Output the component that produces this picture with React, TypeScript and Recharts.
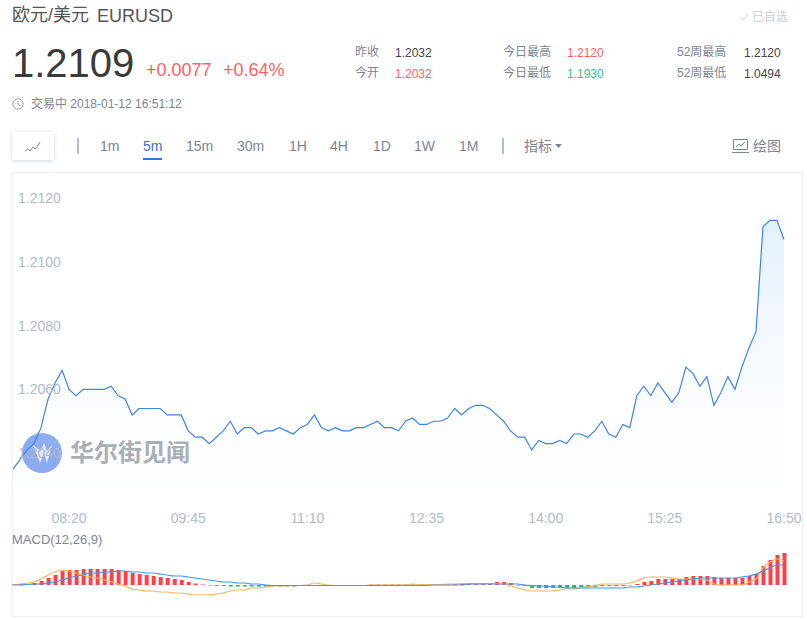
import React from 'react'
import { AreaChart, Area, ComposedChart, Bar, Line, Cell, XAxis, YAxis } from 'recharts'

const FONT = '"Liberation Sans", "Noto Sans CJK SC", sans-serif'

const TIMES = [
  '07:40','07:45','07:50','07:55','08:00','08:05','08:10','08:15','08:20','08:25','08:30','08:35',
  '08:40','08:45','08:50','08:55','09:00','09:05','09:10','09:15','09:20','09:25','09:30','09:35',
  '09:40','09:45','09:50','09:55','10:00','10:05','10:10','10:15','10:20','10:25','10:30','10:35',
  '10:40','10:45','10:50','10:55','11:00','11:05','11:10','11:15','11:20','11:25','11:30','11:35',
  '11:40','11:45','11:50','11:55','12:00','12:05','12:10','12:15','12:20','12:25','12:30','12:35',
  '12:40','12:45','12:50','12:55','13:00','13:05','13:10','13:15','13:20','13:25','13:30','13:35',
  '13:40','13:45','13:50','13:55','14:00','14:05','14:10','14:15','14:20','14:25','14:30','14:35',
  '14:40','14:45','14:50','14:55','15:00','15:05','15:10','15:15','15:20','15:25','15:30','15:35',
  '15:40','15:45','15:50','15:55','16:00','16:05','16:10','16:15','16:20','16:25','16:30','16:35',
  '16:40','16:45','16:50',
]
const TIME_TICKS = ['08:20', '09:45', '11:10', '12:35', '14:00', '15:25', '16:50']
const PRICE_TICKS = [1.204, 1.206, 1.208, 1.21, 1.212]

const PRICE = [
  1.2035,1.2038,1.2041,1.2043,1.2048,1.2057,1.2062,1.2066,1.2060,1.2058,1.2060,1.2060,
  1.2060,1.2060,1.2061,1.2058,1.2057,1.2052,1.2054,1.2054,1.2054,1.2054,1.2052,1.2052,
  1.2052,1.2047,1.2045,1.2045,1.2043,1.2045,1.2047,1.2050,1.2046,1.2048,1.2048,1.2046,
  1.2047,1.2047,1.2048,1.2047,1.2046,1.2048,1.2049,1.2052,1.2048,1.2047,1.2048,1.2047,
  1.2047,1.2048,1.2048,1.2049,1.2050,1.2048,1.2048,1.2047,1.2050,1.2051,1.2049,1.2049,
  1.2050,1.2050,1.2051,1.2054,1.2052,1.2054,1.2055,1.2055,1.2054,1.2052,1.2050,1.2047,
  1.2045,1.2045,1.2041,1.2044,1.2043,1.2043,1.2044,1.2043,1.2046,1.2046,1.2045,1.2047,
  1.2050,1.2046,1.2045,1.2049,1.2048,1.2058,1.2061,1.2058,1.2062,1.2059,1.2056,1.2059,
  1.2067,1.2065,1.2061,1.2064,1.2055,1.2059,1.2064,1.2060,1.2067,1.2073,1.2078,1.2111,
  1.2113,1.2113,1.2107,
]

// MACD values, scaled up so the panel reads in small whole numbers
const HIST = [
  0.5,1,1,2,4,7,10,14,15,15,16,16,
  16,16,16,15,14,12,11,10,9,8,7,6,
  5,3,1.5,0.5,-0.5,-1,-1,-1.5,-1.5,-1.5,-1.5,-1.5,
  -1.5,-1.5,-1.5,-1.5,-1.5,-1,-1,-1,-1,-0.5,-0.5,-0.5,
  -0.5,-0.5,-0.5,0.5,0.5,0.5,0.5,0.5,0.5,0.5,0.5,0.5,
  0.5,0.5,0.5,1,1,1.5,1.5,2,2,3,3,2,
  -0.5,-1,-3,-3,-3,-3,-3,-3,-3,-2,-2,-2,
  -1,-1,-1,-1,-0.5,1,3,4,6,6,6,6,
  8,9,9,9,8,7,7,7,7,9,11,19,
  25,30,32,
]
const DIF = [
  0,1,2,3,6,10,13,15,14,12,10,8,
  7,5,3,1,-1,-4,-5,-6,-6,-7,-7,-8,
  -8,-9,-10,-10,-10,-9,-8,-6,-5,-5,-3,-3,
  -2,-1,-1,-1,-0.5,-0.5,0,2,1,0,-0.5,-0.5,
  -0.5,-0.5,-0.5,0,0,0,0,0,0,1,0.5,0.5,
  0.5,0.5,1,1,1.5,1.5,1.5,1.5,1.5,1.5,1,-1,
  -3,-5,-6,-6,-6,-6,-5,-4,-4,-3,-2,-1,
  1,1,1,1,2,4,7,8,8,8,7,6,
  6,6,6,5,1,0,0,0,0,3,6,17,
  23,26,24,
]
const DEA = [
  0,0,0.5,1,1,2,3,5,7,9,10,12,
  12,13,13,14,14,13,13,12,12,11,10,9,
  9,8,7,6,5,4,3,3,2,2,1,1,
  0,-0.5,-0.5,-0.5,-0.5,-0.5,-0.5,-0.5,-0.5,-0.5,-0.5,-0.5,
  -0.5,-0.5,-0.5,-0.5,-0.5,-0.5,-0.5,-0.5,-0.5,-0.5,-0.5,-0.5,
  0,0,0,0,0,1,1,1,1,1,1,1,
  1,0,-0.5,-1,-1,-2,-2,-3,-3,-3,-3,-3,
  -3,-3,-3,-3,-2,-2,-1,0,1,2,3,4,
  5,6,7,7,7,7,7,7,8,9,11,14,
  17,20,20,
]

const priceData = TIMES.map((time, i) => ({ time, price: PRICE[i] }))
const macdData = TIMES.map((time, i) => ({ time, hist: HIST[i], dif: DIF[i], dea: DEA[i] }))

const TABS = [
  ['1m', 100], ['5m', 143], ['15m', 186], ['30m', 237], ['1H', 289], ['4H', 330],
  ['1D', 373], ['1W', 414], ['1M', 459],
] as const

const STATS = [
  ['昨收', 355, 52, '#7c8494'], ['1.2032', 395, 53, '#444'],
  ['今开', 355, 73, '#7c8494'], ['1.2032', 395, 74, '#ff5f5f'],
  ['今日最高', 503, 52, '#7c8494'], ['1.2120', 567, 53, '#ff5f5f'],
  ['今日最低', 503, 73, '#7c8494'], ['1.1930', 567, 74, '#2fbf8f'],
  ['52周最高', 677, 52, '#7c8494'], ['1.2120', 744, 53, '#444'],
  ['52周最低', 677, 73, '#7c8494'], ['1.0494', 744, 74, '#444'],
] as const

function Txt({ x, y, size, color, children, weight }: any) {
  return (
    <div style={{
      position: 'absolute', left: x, top: y, transform: 'translateY(-50%)', fontSize: size, color,
      fontFamily: FONT, whiteSpace: 'pre', lineHeight: 1, fontWeight: weight,
    }}>{children}</div>
  )
}

export default function App() {
  return (
    <div style={{ position: 'absolute', left: 0, top: 0, width: 807, height: 619, background: '#fff', overflow: 'hidden' }}>
      <Txt x={12} y={15} size={18} color="#555">欧元/美元</Txt>
      <Txt x={97} y={16} size={18} color="#555">EURUSD</Txt>
      <Txt x={12} y={63} size={40} color="#3a3a3a">1.2109</Txt>
      <Txt x={146} y={70} size={18} color="#ff5f5f">+0.0077</Txt>
      <Txt x={223} y={70} size={18} color="#ff5f5f">+0.64%</Txt>

      <svg style={{ position: 'absolute', left: 12, top: 98 }} width={12} height={12}>
        <circle cx={6} cy={6} r={5.2} fill="none" stroke="#9aa1ae" />
        <path d="M6 3v3.4l2.2 1.2" fill="none" stroke="#9aa1ae" />
      </svg>
      <Txt x={31} y={104} size={12} color="#7c8494">交易中 2018-01-12 16:51:12</Txt>

      {STATS.map(([label, x, y, color], i) => (
        <Txt key={i} x={x} y={y} size={12} color={color}>{label}</Txt>
      ))}

      <svg style={{ position: 'absolute', left: 739, top: 12 }} width={10} height={10}>
        <path d="M1 5l3 3 5-6" fill="none" stroke="#d4d4d4" />
      </svg>
      <Txt x={752} y={17} size={12} color="#cfcfcf">已自选</Txt>

      <div style={{
        position: 'absolute', left: 12, top: 132, width: 42, height: 28, background: '#fff',
        boxShadow: '0 1px 4px rgba(120,140,180,0.35)', borderRadius: 2,
      }} />
      <svg style={{ position: 'absolute', left: 24, top: 140 }} width={18} height={14}>
        <path d="M1 11l3-2 2 2 3-4 2 2 2-2 3-5" fill="none" stroke="#7c8494" />
      </svg>
      <div style={{ position: 'absolute', left: 77, top: 138, width: 2, height: 16, background: '#b6bccb' }} />
      {TABS.map(([label, x]) => (
        <Txt key={label} x={x} y={146} size={14} color={label === '5m' ? '#3a6fe0' : '#7c8494'}>{label}</Txt>
      ))}
      <div style={{ position: 'absolute', left: 143, top: 158, width: 19, height: 2, background: '#3a6fe0' }} />
      <div style={{ position: 'absolute', left: 502, top: 138, width: 2, height: 16, background: '#b6bccb' }} />
      <Txt x={524} y={146} size={14} color="#7c8494">指标</Txt>
      <svg style={{ position: 'absolute', left: 555, top: 144 }} width={8} height={5}>
        <path d="M0 0h7l-3.5 4z" fill="#7c8494" />
      </svg>
      <svg style={{ position: 'absolute', left: 732, top: 138 }} width={17} height={16}>
        <path d="M1.5 1.5h14v10h-14zM0 14.5h17" fill="none" stroke="#7c8494" />
        <path d="M4 9l3-3 2 2 4-4" fill="none" stroke="#7c8494" />
      </svg>
      <Txt x={753} y={146} size={14} color="#7c8494">绘图</Txt>

      <div style={{
        position: 'absolute', left: 12, top: 172, width: 789, height: 443, border: '1px solid #eeeeee',
        boxSizing: 'content-box',
      }} />

      {/* watermark sits under the chart, the axis label and line show through */}
      <div style={{
        position: 'absolute', left: 22, top: 433, width: 40, height: 40, borderRadius: 20, background: '#8aa8ef',
      }} />
      <svg style={{ position: 'absolute', left: 22, top: 433 }} width={40} height={40}>
        <path d="M11 12l7 18 4-10 3 10 5-18-5 6-3-8-3 8z" fill="#fff" opacity={0.75} />
      </svg>
      <Txt x={70} y={453} size={24} color="#a6abb2" weight={700}>华尔街见闻</Txt>

      <div style={{ position: 'absolute', left: 0, top: 0 }}>
        <AreaChart width={807} height={540} data={priceData} margin={{ top: 198, right: 23, bottom: 0, left: 13 }}>
          <defs>
            <linearGradient id="priceFill" x1="0" y1="0" x2="0" y2="1">
              <stop offset="0%" stopColor="#cfe6fb" stopOpacity={0.6} />
              <stop offset="50%" stopColor="#cfe6fb" stopOpacity={0.16} />
              <stop offset="100%" stopColor="#cfe6fb" stopOpacity={0} />
            </linearGradient>
          </defs>
          <XAxis
            dataKey="time" ticks={TIME_TICKS} interval={0} height={39} axisLine={false} tickLine={false}
            tick={{ fontSize: 14, fill: '#b0bacd', fontFamily: FONT }} tickMargin={6}
          />
          <YAxis
            domain={[1.2025, 1.212]} ticks={PRICE_TICKS} mirror axisLine={false} tickLine={false} width={60}
            tick={{ fontSize: 14, fill: '#b0bacd', fontFamily: FONT, dx: -3 }} tickFormatter={(v: number) => v.toFixed(4)}
            allowDataOverflow
          />
          <Area
            type="linear" dataKey="price" stroke="#3f83ee" strokeWidth={1.2} fill="url(#priceFill)" fillOpacity={1}
            dot={false} activeDot={false} isAnimationActive={false}
          />
        </AreaChart>
      </div>

      <Txt x={12} y={539} size={13} color="#7c8494">MACD(12,26,9)</Txt>
      <div style={{ position: 'absolute', left: 0, top: 0 }}>
        <ComposedChart
          width={807} height={619} data={macdData} barSize={4}
          margin={{ top: 545, right: 19.5, bottom: 9, left: 9.5 }}
        >
          <XAxis dataKey="time" hide />
          <YAxis domain={[-25, 40]} hide allowDataOverflow />
          <Bar dataKey="hist" isAnimationActive={false}>
            {HIST.map((v, i) => <Cell key={i} fill={v >= 0 ? '#ff4048' : '#22b573'} />)}
          </Bar>
          <Line type="monotone" dataKey="dif" stroke="#fbb35c" strokeWidth={1.2} dot={false} activeDot={false} isAnimationActive={false} />
          <Line type="monotone" dataKey="dea" stroke="#3f9af0" strokeWidth={1.2} dot={false} activeDot={false} isAnimationActive={false} />
        </ComposedChart>
      </div>
    </div>
  )
}
